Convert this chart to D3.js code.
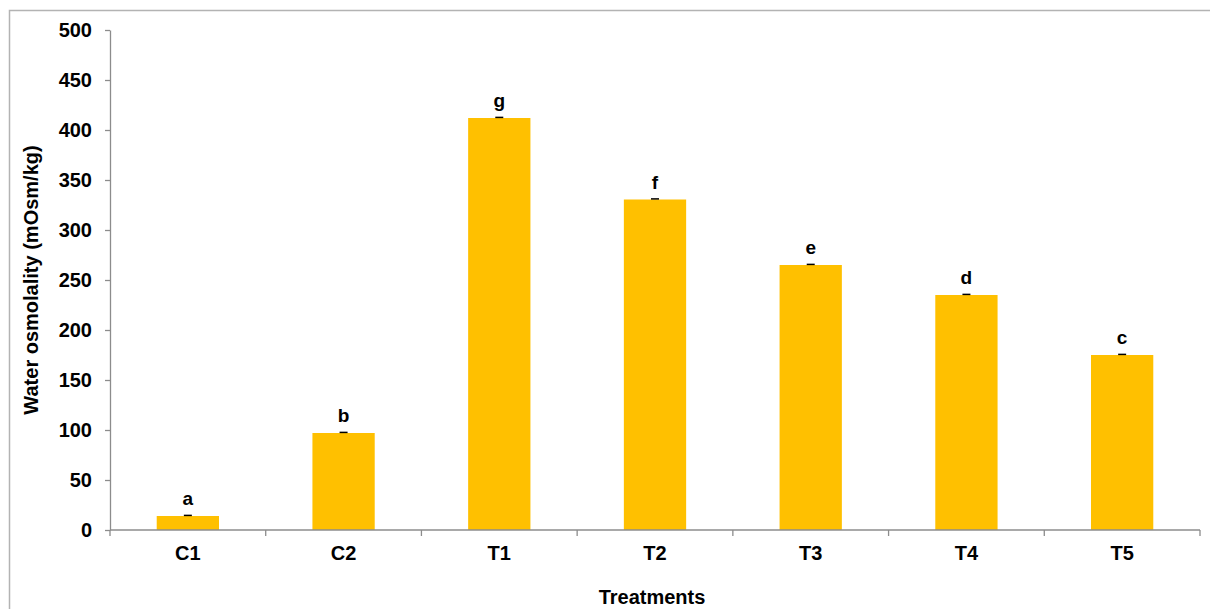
<!DOCTYPE html>
<html lang="en">
<meta charset="utf-8">
<head>
    <script src='https://d3js.org/d3.v7.min.js'></script>
    <style>
        body { margin: 0; background: #fff; }
        text { font-family: "Liberation Sans", Arial, sans-serif; font-weight: bold; fill: #000; }
    </style>
</head>
<body>
<script>

// data
const categories = ["C1", "C2", "T1", "T2", "T3", "T4", "T5"]
const values = [14, 97, 412, 330.5, 265, 235, 175]
const errors = [0.6, 0.6, 0.6, 0.6, 0.6, 0.6, 0.6]
const letters = ["a", "b", "g", "f", "e", "d", "c"]
const yTicks = [0, 50, 100, 150, 200, 250, 300, 350, 400, 450, 500]

const width = 1210,
    height = 609;
const margin = {left: 110, top: 30, right: 10, bottom: 79};

const svg = d3.select("body")
    .append("svg")
    .attr("width", width)
    .attr("height", height);

// outer frame of the chart area
svg.append("rect")
    .attr("x", 9.5).attr("y", 10.5)
    .attr("width", 1240).attr("height", 640)
    .attr("fill", "none")
    .attr("stroke", "#b3b3b3")
    .attr("stroke-width", 1.5);

const x = d3.scaleBand()
    .domain(categories)
    .range([margin.left, 1200])
    .paddingInner(0.6)
    .paddingOuter(0.3);

const xEdge = d3.scaleLinear().domain([0, categories.length]).range([margin.left, 1200]);

const y = d3.scaleLinear()
    .domain([0, 500])
    .range([530, 30]);

// bars
svg.selectAll("rect.bar")
    .data(values)
    .join("rect")
    .attr("class", "bar")
    .attr("x", (d, i) => x(categories[i]))
    .attr("y", d => y(d))
    .attr("width", x.bandwidth())
    .attr("height", d => y(0) - y(d))
    .attr("fill", "#FFC000");

// error bars (tiny)
const cx = i => x(categories[i]) + x.bandwidth() / 2;
svg.selectAll("line.err")
    .data(values)
    .join("line")
    .attr("class", "err")
    .attr("x1", (d, i) => cx(i) - 4)
    .attr("x2", (d, i) => cx(i) + 4)
    .attr("y1", (d, i) => y(d + errors[i]))
    .attr("y2", (d, i) => y(d + errors[i]))
    .attr("stroke", "#000")
    .attr("stroke-width", 1.5);

// letters
svg.selectAll("text.letter")
    .data(values)
    .join("text")
    .attr("class", "letter")
    .attr("x", (d, i) => cx(i))
    .attr("y", d => y(d) - 11)
    .attr("text-anchor", "middle")
    .style("font-size", "19px")
    .text((d, i) => letters[i]);

// y axis
const yAxis = svg.append("g")
    .attr("transform", `translate(${margin.left},0)`)
    .call(d3.axisLeft(y).tickValues(yTicks).tickSize(5).tickPadding(13).tickSizeOuter(0));
yAxis.selectAll("line, path").attr("stroke", "#8c8c8c").attr("stroke-width", 1.3);
yAxis.selectAll("text").style("font-size", "20px").attr("font-family", null);

// x axis
const xAxisG = svg.append("g");
xAxisG.append("line")
    .attr("x1", margin.left).attr("x2", 1200)
    .attr("y1", y(0)).attr("y2", y(0))
    .attr("stroke", "#8c8c8c").attr("stroke-width", 1.3);
xAxisG.selectAll("line.tick")
    .data(d3.range(categories.length + 1))
    .join("line")
    .attr("class", "tick")
    .attr("x1", d => xEdge(d)).attr("x2", d => xEdge(d))
    .attr("y1", y(0)).attr("y2", y(0) + 6)
    .attr("stroke", "#8c8c8c").attr("stroke-width", 1.3);
xAxisG.selectAll("text")
    .data(categories)
    .join("text")
    .attr("x", d => x(d) + x.bandwidth() / 2)
    .attr("y", 560)
    .attr("text-anchor", "middle")
    .style("font-size", "20px")
    .text(d => d);

// axis titles
svg.append("text")
    .attr("x", 652)
    .attr("y", 604)
    .attr("text-anchor", "middle")
    .style("font-size", "20px")
    .text("Treatments");

svg.append("text")
    .attr("transform", "translate(38,280) rotate(-90)")
    .attr("text-anchor", "middle")
    .style("font-size", "20px")
    .text("Water osmolality (mOsm/kg)");

</script>
</body>
</html>
